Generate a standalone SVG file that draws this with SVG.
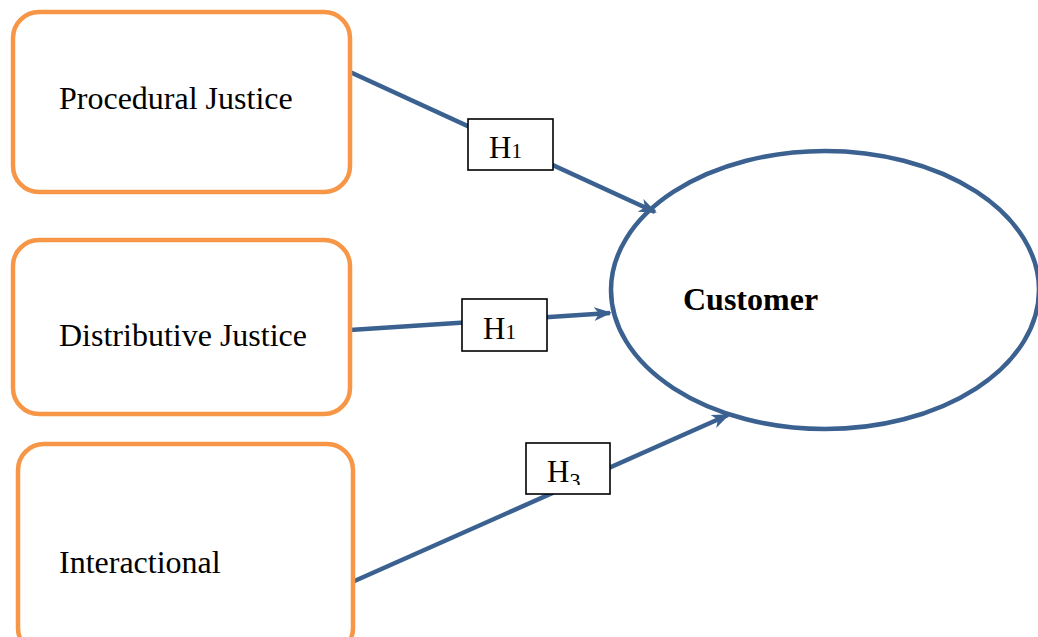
<svg xmlns="http://www.w3.org/2000/svg" width="1038" height="637" viewBox="0 0 1038 637">
<style>
.box{fill:#fff;stroke:#F79646;stroke-width:4.5}
.lbl{fill:#fff;stroke:#000;stroke-width:1.6}
.t{font-family:"Liberation Serif","Times New Roman",serif;font-size:32px;fill:#000}
.h{font-family:"Liberation Serif","Times New Roman",serif;font-size:31px;fill:#000}
.c{stroke:#3B6191;stroke-width:4.5;fill:none}
</style>
<defs>
<marker id="arr" markerUnits="userSpaceOnUse" markerWidth="18" markerHeight="14" refX="16" refY="7" orient="auto" viewBox="0 0 18 14">
<path d="M0,0 L18,7 L0,14 L5,7 z" fill="#3B6191"/>
</marker>
<clipPath id="clip3"><rect x="526" y="444" width="83" height="41"/></clipPath>
</defs>
<g id="customer">
<ellipse cx="825" cy="290" rx="214" ry="139" fill="#fff" stroke="#3B6191" stroke-width="4.5"/>
<text class="t" x="683" y="310" font-weight="bold">Customer</text>
</g>
<g id="connectors">
<line class="c" x1="350" y1="72" x2="655" y2="212" marker-end="url(#arr)"/>
<line class="c" x1="350" y1="330" x2="610" y2="313" marker-end="url(#arr)"/>
<line class="c" x1="350" y1="583" x2="728" y2="415" marker-end="url(#arr)"/>
</g>
<g id="procedural">
<rect class="box" x="13" y="12" width="337" height="180" rx="26"/>
<text class="t" x="59" y="109">Procedural Justice</text>
</g>
<g id="distributive">
<rect class="box" x="13" y="240" width="337" height="174" rx="26"/>
<text class="t" x="59" y="346">Distributive Justice</text>
</g>
<g id="interactional">
<rect class="box" x="18" y="444" width="335" height="210" rx="26"/>
<text class="t" x="59" y="573">Interactional</text>
</g>
<g id="label-h1a">
<rect class="lbl" x="468" y="119" width="85" height="51"/>
<text class="h" x="489" y="158">H<tspan font-size="21">1</tspan></text>
</g>
<g id="label-h1b">
<rect class="lbl" x="462" y="299" width="85" height="52"/>
<text class="h" x="483" y="339">H<tspan font-size="21">1</tspan></text>
</g>
<g id="label-h3">
<rect class="lbl" x="526" y="443" width="84" height="51"/>
<text class="h" x="547" y="482" clip-path="url(#clip3)">H<tspan font-size="22" dy="6">3</tspan></text>
</g>
</svg>
